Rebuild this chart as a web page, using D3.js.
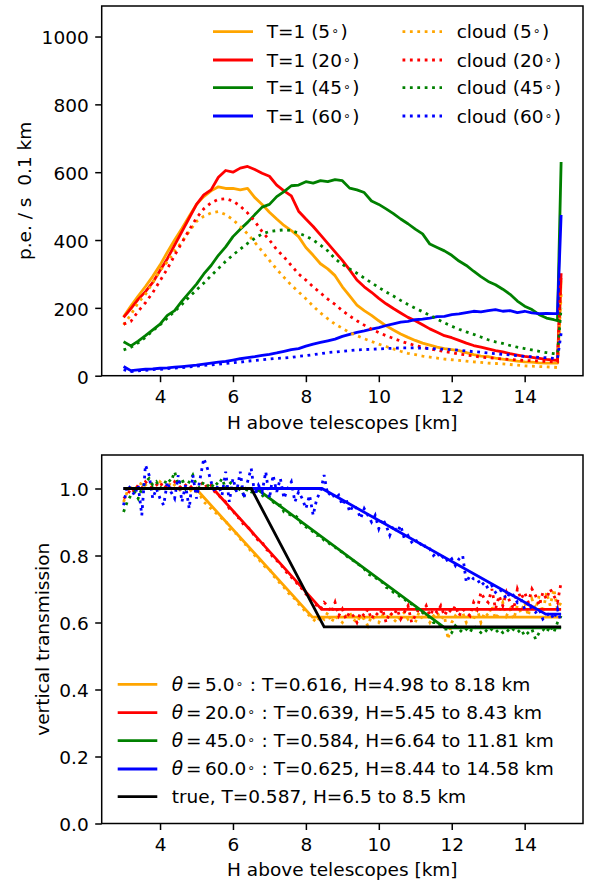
<!DOCTYPE html>
<html><head><meta charset="utf-8">
<script src="https://cdn.jsdelivr.net/npm/d3@7/dist/d3.min.js"></script>
<style>
body{margin:0;background:#fff;}
text{font-family:"DejaVu Sans";fill:#000;}
</style>
</head><body>
<svg id="c" width="595" height="882"></svg>
<script>
// ---------------- DATA ----------------
const angles = [5, 20, 45, 60];
const seriesColors = ["#FFA500", "#FF0000", "#008000", "#0000FF"];

// top panel: height samples [km]
const H_top = [3.0,3.2,3.4,3.6,3.8,4.0,4.2,4.4,4.6,4.8,5.0,5.2,5.4,5.6,5.8,6.0,6.2,6.4,6.6,6.8,
  7.0,7.2,7.4,7.6,7.8,8.0,8.2,8.4,8.6,8.8,9.0,9.2,9.4,9.6,9.8,10.0,10.2,10.4,10.6,10.8,
  11.0,11.2,11.4,11.6,11.8,12.0,12.2,12.4,12.6,12.8,13.0,13.2,13.4,13.6,13.8,14.0,14.2,14.4,14.6,14.8,14.9,15.0];

// p.e./s per 0.1 km, T=1
const t1_5  = [174,205,235,263,293,326,364,400,434,470,505,528,545,557,552,552,548,552,525,505,
  482,462,443,428,410,378,355,330,315,295,262,235,208,192,178,162,147,135,123,113,
  104,96,90,84,80,77,74,68,62,58,56,52,49,46,43,41,40,38,37,37,37,280];
const t1_20 = [172,198,225,248,275,310,345,385,425,465,505,533,548,585,605,600,612,617,608,597,
  588,562,545,530,485,462,440,415,390,365,340,312,282,262,246,228,212,198,185,172,
  162,150,138,128,118,112,104,96,89,84,79,74,70,65,61,57,54,51,48,46,45,302];
const t1_45 = [100,88,102,118,135,152,178,192,220,245,270,300,325,355,380,410,432,452,475,497,
  505,528,543,560,562,572,568,575,572,578,575,553,548,540,515,505,492,478,462,448,
  432,418,388,378,368,355,338,325,308,292,278,268,255,240,220,205,195,180,170,165,162,630];
const t1_60 = [27,15,17,19,20,22,23,25,27,29,31,34,37,40,42,46,50,53,56,60,
  63,67,72,77,80,87,93,98,103,108,116,122,128,132,137,142,148,153,158,160,
  165,167,170,174,175,180,182,186,190,188,192,195,190,192,186,190,185,183,184,183,183,474];
// cloud
const cloud_5  = [150,180,215,240,275,310,336,368,395,425,455,470,480,484,475,460,440,418,393,367,
  340,314,290,267,247,227,205,185,168,152,140,127,118,109,101,93,86,79,72,66,
  62,58,55,52,49,47,45,43,41,39,37,36,35,33,31,29,28,27,26,25,24,240];
const cloud_20 = [152,160,190,215,245,280,315,355,392,430,465,492,510,520,522,515,500,480,455,425,
  400,372,350,325,300,282,262,244,226,210,192,176,162,149,137,127,118,110,102,95,
  89,84,79,75,71,68,64,61,58,55,53,51,49,48,46,45,44,43,42,41,41,300];
const cloud_45 = [76,84,97,113,133,150,170,190,210,232,253,273,295,316,337,356,373,390,405,418,
  425,428,430,428,420,412,400,385,368,345,328,315,302,288,274,260,247,235,222,210,
  199,189,178,167,156,146,137,129,122,114,106,100,95,89,84,80,76,72,68,65,64,200];
const cloud_60 = [18,12,14,16,18,19,21,22,24,26,28,30,32,34,36,38,40,43,45,47,
  49,51,52,54,57,59,62,65,68,70,72,74,76,77,78,79,80,81,82,82,
  82,81,80,79,78,77,75,73,71,69,67,65,63,61,59,57,56,54,53,51,50,125];

// bottom panel: height samples [km]
const H_bot = [3.0,3.1,3.2,3.3,3.4,3.5,3.6,3.7,3.8,3.9,4.0,4.1,4.2,4.3,4.4,4.5,4.6,4.7,4.8,4.9,
  5.0,5.1,5.2,5.3,5.4,5.5,5.6,5.7,5.8,5.9,6.0,6.1,6.2,6.3,6.4,6.5,6.6,6.7,6.8,6.9,
  7.0,7.1,7.2,7.3,7.4,7.5,7.6,7.7,7.8,7.9,8.0,8.1,8.2,8.3,8.4,8.5,8.6,8.7,8.8,8.9,
  9.0,9.1,9.2,9.3,9.4,9.5,9.6,9.7,9.8,9.9,10.0,10.1,10.2,10.3,10.4,10.5,10.6,10.7,10.8,10.9,
  11.0,11.1,11.2,11.3,11.4,11.5,11.6,11.7,11.8,11.9,12.0,12.1,12.2,12.3,12.4,12.5,12.6,12.7,12.8,12.9,
  13.0,13.1,13.2,13.3,13.4,13.5,13.6,13.7,13.8,13.9,14.0,14.1,14.2,14.3,14.4,14.5,14.6,14.7,14.8,14.9,15.0];

// measured vertical transmission
const trans_5 = [0.96,0.99,1.00,1.01,1.00,1.02,1.01,1.02,1.01,1.00,
  1.02,1.01,1.00,1.02,1.01,1.00,0.99,1.00,0.99,1.00,
  0.99,0.98,0.96,0.95,0.94,0.93,0.92,0.91,0.905,0.88,
  0.87,0.865,0.85,0.835,0.83,0.81,0.80,0.79,0.775,0.765,
  0.76,0.74,0.73,0.715,0.705,0.69,0.68,0.67,0.655,0.645,
  0.63,0.62,0.61,0.60,0.62,0.61,0.63,0.60,0.62,0.61,
  0.60,0.62,0.63,0.61,0.60,0.62,0.61,0.59,0.62,0.61,
  0.60,0.62,0.61,0.63,0.61,0.60,0.62,0.63,0.61,0.62,
  0.60,0.63,0.61,0.62,0.60,0.62,0.63,0.61,0.62,0.55,
  0.60,0.62,0.61,0.63,0.60,0.62,0.61,0.64,0.60,0.63,
  0.62,0.65,0.61,0.63,0.66,0.62,0.64,0.61,0.65,0.63,
  0.66,0.62,0.67,0.64,0.68,0.63,0.69,0.65,0.70,0.64,0.66];
const trans_20 = [0.97,0.98,1.00,0.99,1.01,1.00,1.02,1.01,1.00,1.01,
  1.02,1.00,1.01,1.00,1.02,1.01,1.00,1.01,1.00,1.01,
  1.00,1.01,1.02,1.00,1.01,0.99,0.98,0.97,0.96,0.94,
  0.935,0.915,0.91,0.89,0.885,0.875,0.855,0.845,0.84,0.82,
  0.81,0.795,0.785,0.775,0.76,0.745,0.735,0.725,0.71,0.70,
  0.685,0.675,0.66,0.65,0.64,0.66,0.65,0.63,0.66,0.62,
  0.64,0.61,0.63,0.62,0.60,0.63,0.62,0.64,0.61,0.63,
  0.62,0.64,0.60,0.63,0.62,0.64,0.61,0.63,0.65,0.60,
  0.62,0.64,0.63,0.65,0.62,0.64,0.63,0.65,0.62,0.64,
  0.63,0.65,0.62,0.64,0.63,0.62,0.66,0.64,0.69,0.67,
  0.66,0.70,0.64,0.68,0.65,0.69,0.66,0.64,0.70,0.67,
  0.69,0.66,0.70,0.68,0.65,0.69,0.67,0.70,0.68,0.66,0.72];
const trans_45 = [0.93,0.96,0.98,0.99,0.97,1.00,1.02,1.03,1.01,1.02,
  1.00,1.01,1.03,1.02,1.05,1.01,1.03,1.00,1.02,1.04,
  1.01,1.00,1.02,1.01,1.00,1.02,1.01,1.03,1.00,1.02,
  1.01,0.99,1.00,0.98,1.00,0.99,1.00,0.99,0.98,0.97,
  0.975,0.96,0.95,0.95,0.93,0.925,0.92,0.92,0.91,0.89,
  0.885,0.88,0.87,0.86,0.86,0.845,0.84,0.83,0.825,0.815,
  0.81,0.80,0.79,0.785,0.775,0.77,0.76,0.745,0.74,0.735,
  0.725,0.72,0.705,0.70,0.69,0.685,0.675,0.67,0.66,0.655,
  0.645,0.635,0.63,0.62,0.615,0.60,0.60,0.59,0.58,0.58,
  0.57,0.59,0.58,0.57,0.58,0.57,0.59,0.58,0.57,0.58,
  0.57,0.58,0.57,0.58,0.57,0.58,0.57,0.58,0.57,0.58,
  0.56,0.57,0.58,0.55,0.57,0.58,0.57,0.59,0.57,0.60,0.62];
const trans_60 = [0.95,1.01,1.00,0.98,1.01,0.92,1.07,1.04,0.97,1.00,
  0.97,0.95,1.02,0.99,0.97,1.04,0.96,1.01,0.94,1.04,
  0.97,1.03,1.09,1.06,1.02,0.99,1.01,0.98,1.05,0.96,
  1.03,0.99,1.05,0.97,1.02,1.06,0.98,1.01,0.99,1.05,
  0.97,1.04,0.99,1.03,0.97,1.00,1.02,0.96,0.99,0.97,
  0.94,0.98,0.92,0.97,0.99,1.04,0.98,0.99,0.97,0.98,
  0.95,0.97,0.93,0.95,0.94,0.91,0.94,0.92,0.90,0.92,
  0.88,0.91,0.89,0.86,0.89,0.87,0.89,0.85,0.86,0.84,
  0.85,0.83,0.84,0.82,0.82,0.80,0.81,0.79,0.80,0.78,
  0.79,0.77,0.79,0.80,0.72,0.74,0.73,0.73,0.71,0.72,
  0.70,0.71,0.69,0.70,0.69,0.67,0.69,0.68,0.66,0.67,
  0.64,0.66,0.64,0.63,0.64,0.61,0.62,0.63,0.61,0.64,0.60];

// fitted cloud parameters
const fitT  = [0.616, 0.639, 0.584, 0.625];
const fitH1 = [4.98, 5.45, 6.64, 8.44];
const fitH2 = [8.18, 8.43, 11.81, 14.58];
const trueT = 0.587, trueH1 = 6.5, trueH2 = 8.5;
const fitRange = [3.0, 15.0];

// ticks
const xTicks = [4, 6, 8, 10, 12, 14];
const yTicksTop = [0, 200, 400, 600, 800, 1000];
const yTicksBot = [0.0, 0.2, 0.4, 0.6, 0.8, 1.0];

// ---------------- DRAW ----------------
const svg = d3.select("#c");
const FS = 18.5, LW = 2.8, DOT = "2.8,4.6";
const L = 101.7, R = 583;

function panel(top, bottom, yDomain, yTicks, yFmt, ylabel, ylabelX) {
  const g = svg.append("g");
  const x = d3.scaleLinear().domain([2.4, 15.6]).range([L, R]);
  const y = d3.scaleLinear().domain(yDomain).range([bottom, top]);
  const ax = g.append("g").attr("transform", `translate(0,${bottom})`)
    .call(d3.axisBottom(x).tickValues(xTicks).tickFormat(d3.format("d")).tickSize(6.5).tickPadding(8));
  const ay = g.append("g").attr("transform", `translate(${L},0)`)
    .call(d3.axisLeft(y).tickValues(yTicks).tickFormat(yFmt).tickSize(6.5).tickPadding(6.5));
  [ax, ay].forEach(a => {
    a.select(".domain").remove();
    a.selectAll(".tick line").attr("stroke", "#000").attr("stroke-width", 1.5);
    a.selectAll(".tick text").attr("font-size", FS).attr("font-family", "DejaVu Sans").attr("fill", "#000");
  });
  ay.selectAll(".tick text").attr("dy", "0.4em");
  g.append("text").attr("x", (L + R) / 2).attr("y", bottom + 52.8)
    .attr("text-anchor", "middle").attr("font-size", FS).text("H above telescopes [km]");
  g.append("text").attr("transform", `translate(${ylabelX},${(top + bottom) / 2}) rotate(-90)`)
    .attr("text-anchor", "middle").attr("font-size", FS).style("white-space", "pre").text(ylabel);
  const plot = g.append("g");
  const frame = () => g.append("rect").attr("x", L).attr("y", top).attr("width", R - L).attr("height", bottom - top)
    .attr("fill", "none").attr("stroke", "#000").attr("stroke-width", 1.5);
  return {g, plot, x, y, frame};
}

// ---- top panel
const P1 = panel(6, 375.7, [0, 1090], yTicksTop, d3.format("d"), "p.e. / s  0.1 km", 31);
const t1All = [t1_5, t1_20, t1_45, t1_60];
const cloudAll = [cloud_5, cloud_20, cloud_45, cloud_60];
const line1 = d3.line().x((d, i) => P1.x(H_top[i])).y(d => P1.y(d));
t1All.forEach((s, k) => P1.plot.append("path").attr("d", line1(s)).attr("fill", "none")
  .attr("stroke", seriesColors[k]).attr("stroke-width", LW).attr("stroke-linejoin", "round"));
cloudAll.forEach((s, k) => P1.plot.append("path").attr("d", line1(s)).attr("fill", "none")
  .attr("stroke", seriesColors[k]).attr("stroke-width", LW).attr("stroke-dasharray", DOT));
P1.frame();

function degText(g, xPos, yBase, pre, post, italicTheta) {
  const t = g.append("text").attr("x", xPos).attr("y", yBase).attr("font-size", FS);
  if (italicTheta) {
    t.append("tspan").attr("font-style", "italic").text("θ");
    t.append("tspan").attr("dx", 3).text("=");
    t.append("tspan").attr("dx", 3.5).text(pre);
  } else {
    t.append("tspan").text(pre);
  }
  t.append("tspan").attr("dx", 1).attr("dy", -3).attr("font-size", 12.5).text("∘");
  t.append("tspan").attr("dx", italicTheta ? 6.5 : 1.5).attr("dy", 3).style("white-space", "pre").text(post);
  return t;
}

// top legend
const legRowsTop = [31.7, 60, 87.7, 116];
angles.forEach((a, k) => {
  const yy = legRowsTop[k];
  P1.g.append("line").attr("x1", 213).attr("x2", 253).attr("y1", yy).attr("y2", yy)
    .attr("stroke", seriesColors[k]).attr("stroke-width", LW);
  degText(P1.g, 266.7, yy + 6.6, `T=1 (${a}`, ")", false);
  P1.g.append("line").attr("x1", 402.5).attr("x2", 442).attr("y1", yy).attr("y2", yy)
    .attr("stroke", seriesColors[k]).attr("stroke-width", LW).attr("stroke-dasharray", DOT);
  degText(P1.g, 456.7, yy + 6.6, `cloud (${a}`, ")", false);
});

// ---- bottom panel
const P2 = panel(455, 823.5, [0, 1.1], yTicksBot, d3.format(".1f"), "vertical transmission", 49);
const line2 = d3.line().x(d => P2.x(d[0])).y(d => P2.y(d[1]));
const transAll = [trans_5, trans_20, trans_45, trans_60];
transAll.forEach((s, k) => {
  P2.plot.append("path").attr("d", line2(s.map((v, i) => [H_bot[i], v]))).attr("fill", "none")
    .attr("stroke", seriesColors[k]).attr("stroke-width", LW).attr("stroke-dasharray", DOT);
  const pts = [[fitRange[0], 1], [fitH1[k], 1], [fitH2[k], fitT[k]], [fitRange[1], fitT[k]]];
  P2.plot.append("path").attr("d", line2(pts)).attr("fill", "none")
    .attr("stroke", seriesColors[k]).attr("stroke-width", LW);
});
P2.plot.append("path").attr("d", line2([[fitRange[0], 1], [trueH1, 1], [trueH2, trueT], [fitRange[1], trueT]]))
  .attr("fill", "none").attr("stroke", "#000").attr("stroke-width", LW);
P2.frame();

// bottom legend
const legRowsBot = [684.3, 712.7, 740.7, 769, 796.7];
angles.forEach((a, k) => {
  const yy = legRowsBot[k];
  P2.g.append("line").attr("x1", 117.7).attr("x2", 157.3).attr("y1", yy).attr("y2", yy)
    .attr("stroke", seriesColors[k]).attr("stroke-width", LW);
  degText(P2.g, 171.7, yy + 6.4, a.toFixed(1),
    `: T=${fitT[k].toFixed(3)}, H=${fitH1[k].toFixed(2)} to ${fitH2[k].toFixed(2)} km`, true);
});
{
  const yy = legRowsBot[4];
  P2.g.append("line").attr("x1", 117.7).attr("x2", 157.3).attr("y1", yy).attr("y2", yy)
    .attr("stroke", "#000").attr("stroke-width", LW);
  P2.g.append("text").attr("x", 171.7).attr("y", yy + 6.4).attr("font-size", FS)
    .text(`true, T=${trueT}, H=${trueH1} to ${trueH2} km`);
}
</script>
</body></html>
